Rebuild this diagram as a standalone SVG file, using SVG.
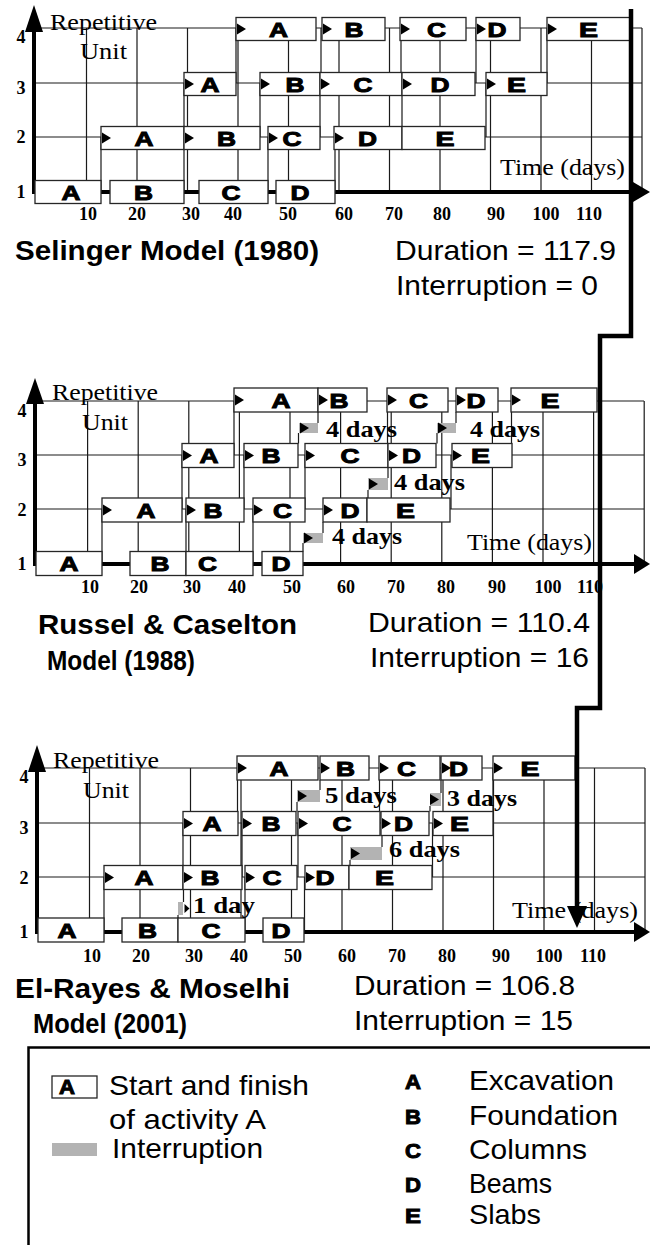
<svg xmlns="http://www.w3.org/2000/svg" xmlns:xlink="http://www.w3.org/1999/xlink" width="650" height="1245" viewBox="0 0 650 1245">
<defs>
<style>
.g{stroke:#1a1a1a;stroke-width:1.2;fill:none}
.ax{stroke:#000;stroke-width:4;fill:none}
.b{fill:#fff;stroke:#262626;stroke-width:1.3}
.L{font-family:"Liberation Sans",Arial,sans-serif;font-weight:bold;font-size:21px;text-anchor:middle;fill:#000;stroke:#000;stroke-width:1}
.n{font-family:"Liberation Serif","Times New Roman",serif;font-weight:bold;font-size:18px;text-anchor:middle;fill:#000}
.r{font-family:"Liberation Serif","Times New Roman",serif;font-size:24px;fill:#000}
.d{font-family:"Liberation Serif","Times New Roman",serif;font-weight:bold;font-size:23px;fill:#000}
.t{font-family:"Liberation Sans",Arial,sans-serif;font-size:28px;fill:#000}
.tb{font-family:"Liberation Sans",Arial,sans-serif;font-size:28px;font-weight:bold;fill:#000}
.gr{fill:#b3b3b3}
</style>
<path id="tri" d="M0,-5.5L9,0L0,5.5Z" fill="#000"/>
</defs>
<rect width="650" height="1245" fill="#fff"/>

<!-- ===== TOP: Selinger ===== -->
<g id="top-grid">
<path class="g" d="M34,28H642M34,83H642M34,137H642M86.5,28V192M137,28V192M187.5,28V192M238,28V192M288.5,28V192M339,28V192M389.5,28V192M440,28V192M490.5,28V192M541,28V192M591.5,28V192M642,28V192"/>
<path class="ax" d="M34,30V194M34,192H636"/>
<polygon points="34,5 25,32 43,32" fill="#000"/>
<polygon points="650,192 633,182 633,202" fill="#000"/>
</g>
<g id="connectors">
<path class="g" d="M101,137V192M184,83V192M236,28V83M260,83V137M268,137V192M321,28V83M320,83V137M335,137V192M401,28V83M402,83V137M476,28V83M486,83V137M547,28V83"/>
<path class="g" d="M102,509V564M182,455V509M186,509V564M234,401V455M244,455V509M253,509V564M305,455V509M387.5,401V455M451,455V509M511.5,401V455M298.5,433V443.5M318,412V423M437,433V443.5M456,412V423M368,490V498M388,467.5V478M303,543V551.5M323,522V533"/>
<path class="g" d="M104,877V932M183,823V877M237.5,768V823M242,823V877M245,877V932M298,823V877M304.5,877V932M379.5,768V823M432.5,823V877M493,768V823M297,802V811.5M320,780V790M430,806V811.5M441,780V793M350,860V865.5M382,835.5V847M178,915V918M183.5,889.5V902"/>
</g>

<g id="top-bars">
<g id="s1A"><rect class="b" x="35" y="180.5" width="66" height="23"/><text class="L" x="71" y="199.5" textLength="19" lengthAdjust="spacingAndGlyphs">A</text></g>
<g id="s1B"><rect class="b" x="110" y="180.5" width="74" height="23"/><text class="L" x="143.5" y="199.5" textLength="19" lengthAdjust="spacingAndGlyphs">B</text></g>
<g id="s1C"><rect class="b" x="199" y="180.5" width="69" height="23"/><text class="L" x="231" y="199.5" textLength="19" lengthAdjust="spacingAndGlyphs">C</text></g>
<g id="s1D"><rect class="b" x="276" y="180.5" width="59" height="23"/><text class="L" x="300" y="199.5" textLength="19" lengthAdjust="spacingAndGlyphs">D</text></g>
<g id="s2A"><rect class="b" x="101" y="126.5" width="83" height="23"/><use xlink:href="#tri" x="102" y="138"/><text class="L" x="144" y="145.5" textLength="19" lengthAdjust="spacingAndGlyphs">A</text></g>
<g id="s2B"><rect class="b" x="184" y="126.5" width="76" height="23"/><use xlink:href="#tri" x="185" y="138"/><text class="L" x="226.5" y="145.5" textLength="19" lengthAdjust="spacingAndGlyphs">B</text></g>
<g id="s2C"><rect class="b" x="268" y="126.5" width="52" height="23"/><use xlink:href="#tri" x="269" y="138"/><text class="L" x="292" y="145.5" textLength="19" lengthAdjust="spacingAndGlyphs">C</text></g>
<g id="s2D"><rect class="b" x="334" y="126.5" width="68" height="23"/><use xlink:href="#tri" x="335" y="138"/><text class="L" x="367.5" y="145.5" textLength="19" lengthAdjust="spacingAndGlyphs">D</text></g>
<g id="s2E"><rect class="b" x="402" y="126.5" width="83" height="23"/><text class="L" x="445" y="145.5" textLength="19" lengthAdjust="spacingAndGlyphs">E</text></g>
<g id="s3A"><rect class="b" x="184" y="72.5" width="52" height="23"/><use xlink:href="#tri" x="185" y="84"/><text class="L" x="210" y="91.5" textLength="19" lengthAdjust="spacingAndGlyphs">A</text></g>
<g id="s3B"><rect class="b" x="260" y="72.5" width="60" height="23"/><use xlink:href="#tri" x="261" y="84"/><text class="L" x="295" y="91.5" textLength="19" lengthAdjust="spacingAndGlyphs">B</text></g>
<g id="s3C"><rect class="b" x="320" y="72.5" width="82" height="23"/><use xlink:href="#tri" x="321" y="84"/><text class="L" x="363" y="91.5" textLength="19" lengthAdjust="spacingAndGlyphs">C</text></g>
<g id="s3D"><rect class="b" x="402" y="72.5" width="73" height="23"/><use xlink:href="#tri" x="403" y="84"/><text class="L" x="440" y="91.5" textLength="19" lengthAdjust="spacingAndGlyphs">D</text></g>
<g id="s3E"><rect class="b" x="486" y="72.5" width="61" height="23"/><use xlink:href="#tri" x="487" y="84"/><text class="L" x="516.5" y="91.5" textLength="19" lengthAdjust="spacingAndGlyphs">E</text></g>
<g id="s4A"><rect class="b" x="236" y="17.5" width="80" height="23"/><use xlink:href="#tri" x="237" y="29"/><text class="L" x="278.5" y="36.5" textLength="19" lengthAdjust="spacingAndGlyphs">A</text></g>
<g id="s4B"><rect class="b" x="322" y="17.5" width="63" height="23"/><use xlink:href="#tri" x="323" y="29"/><text class="L" x="354" y="36.5" textLength="19" lengthAdjust="spacingAndGlyphs">B</text></g>
<g id="s4C"><rect class="b" x="400" y="17.5" width="66" height="23"/><use xlink:href="#tri" x="401" y="29"/><text class="L" x="436.5" y="36.5" textLength="19" lengthAdjust="spacingAndGlyphs">C</text></g>
<g id="s4D"><rect class="b" x="476" y="17.5" width="44" height="23"/><use xlink:href="#tri" x="477" y="29"/><text class="L" x="497" y="36.5" textLength="19" lengthAdjust="spacingAndGlyphs">D</text></g>
<g id="s4E"><rect class="b" x="547" y="17.5" width="83" height="23"/><use xlink:href="#tri" x="548" y="29"/><text class="L" x="588.5" y="36.5" textLength="19" lengthAdjust="spacingAndGlyphs">E</text></g>
</g>
<g id="top-labels">
<text class="r" x="50" y="30" textLength="107" lengthAdjust="spacingAndGlyphs">Repetitive</text>
<text class="r" x="80" y="59" textLength="47" lengthAdjust="spacingAndGlyphs">Unit</text>
<text class="r" x="500" y="175" textLength="125" lengthAdjust="spacingAndGlyphs">Time (days)</text>
<text class="n" x="21" y="43">4</text><text class="n" x="21" y="94">3</text><text class="n" x="21" y="143">2</text><text class="n" x="21" y="198">1</text>
<text class="n" x="88" y="220">10</text><text class="n" x="137" y="220">20</text><text class="n" x="191" y="220">30</text><text class="n" x="233" y="220">40</text><text class="n" x="288" y="220">50</text><text class="n" x="344" y="220">60</text><text class="n" x="394" y="220">70</text><text class="n" x="442" y="220">80</text><text class="n" x="496" y="220">90</text><text class="n" x="546" y="220">100</text><text class="n" x="589" y="220">110</text>
<text class="tb" x="15" y="260" textLength="304" lengthAdjust="spacingAndGlyphs">Selinger Model (1980)</text>
<text class="t" x="395" y="260" textLength="221" lengthAdjust="spacingAndGlyphs">Duration = 117.9</text>
<text class="t" x="396" y="295" textLength="202" lengthAdjust="spacingAndGlyphs">Interruption = 0</text>
</g>

<!-- ===== MIDDLE: Russel & Caselton ===== -->
<g id="mid-grid">
<path class="g" d="M35,401H644M35,455H644M35,509H644M87.6,401V564M138.2,401V564M188.8,401V564M239.4,401V564M290,401V564M340.6,401V564M391.2,401V564M441.8,401V564M492.4,401V564M543,401V564M593.6,401V564M644.2,401V564"/>
<path class="ax" d="M35,402V566M35,564H636"/>
<polygon points="35,378 26,404 44,404" fill="#000"/>
<polygon points="650,564 634,554 634,574" fill="#000"/>
</g>
<g id="mid-bars">
<g id="m1A"><rect class="b" x="36" y="551.5" width="66" height="24"/><text class="L" x="69" y="571" textLength="19" lengthAdjust="spacingAndGlyphs">A</text></g>
<g id="m1B"><rect class="b" x="130" y="551.5" width="56" height="24"/><text class="L" x="160" y="571" textLength="19" lengthAdjust="spacingAndGlyphs">B</text></g>
<g id="m1C"><rect class="b" x="186" y="551.5" width="67" height="24"/><text class="L" x="207.5" y="571" textLength="19" lengthAdjust="spacingAndGlyphs">C</text></g>
<g id="m1D"><rect class="b" x="262" y="551.5" width="41" height="24"/><text class="L" x="281" y="571" textLength="19" lengthAdjust="spacingAndGlyphs">D</text></g>
<g id="m2A"><rect class="b" x="102" y="498" width="80" height="24"/><use xlink:href="#tri" x="103" y="510"/><text class="L" x="146" y="517.5" textLength="19" lengthAdjust="spacingAndGlyphs">A</text></g>
<g id="m2B"><rect class="b" x="186" y="498" width="58" height="24"/><use xlink:href="#tri" x="187" y="510"/><text class="L" x="213" y="517.5" textLength="19" lengthAdjust="spacingAndGlyphs">B</text></g>
<g id="m2C"><rect class="b" x="253" y="498" width="52" height="24"/><use xlink:href="#tri" x="254" y="510"/><text class="L" x="282.5" y="517.5" textLength="19" lengthAdjust="spacingAndGlyphs">C</text></g>
<g id="m2D"><rect class="b" x="323" y="498" width="44" height="24"/><use xlink:href="#tri" x="324" y="510"/><text class="L" x="350" y="517.5" textLength="19" lengthAdjust="spacingAndGlyphs">D</text></g>
<g id="m2E"><rect class="b" x="367" y="498" width="83" height="24"/><text class="L" x="405.5" y="517.5" textLength="19" lengthAdjust="spacingAndGlyphs">E</text></g>
<g id="m3A"><rect class="b" x="182" y="443.5" width="52" height="24"/><use xlink:href="#tri" x="183" y="455.5"/><text class="L" x="209" y="463" textLength="19" lengthAdjust="spacingAndGlyphs">A</text></g>
<g id="m3B"><rect class="b" x="244" y="443.5" width="54" height="24"/><use xlink:href="#tri" x="245" y="455.5"/><text class="L" x="271" y="463" textLength="19" lengthAdjust="spacingAndGlyphs">B</text></g>
<g id="m3C"><rect class="b" x="305" y="443.5" width="83" height="24"/><use xlink:href="#tri" x="306" y="455.5"/><text class="L" x="350" y="463" textLength="19" lengthAdjust="spacingAndGlyphs">C</text></g>
<g id="m3D"><rect class="b" x="388" y="443.5" width="48" height="24"/><use xlink:href="#tri" x="389" y="455.5"/><text class="L" x="411.5" y="463" textLength="19" lengthAdjust="spacingAndGlyphs">D</text></g>
<g id="m3E"><rect class="b" x="452" y="443.5" width="60" height="24"/><use xlink:href="#tri" x="453" y="455.5"/><text class="L" x="480.5" y="463" textLength="19" lengthAdjust="spacingAndGlyphs">E</text></g>
<g id="m4A"><rect class="b" x="234" y="388" width="84" height="24"/><use xlink:href="#tri" x="235" y="400"/><text class="L" x="281" y="407.5" textLength="19" lengthAdjust="spacingAndGlyphs">A</text></g>
<g id="m4B"><rect class="b" x="318" y="388" width="49" height="24"/><use xlink:href="#tri" x="319" y="400"/><text class="L" x="339" y="407.5" textLength="19" lengthAdjust="spacingAndGlyphs">B</text></g>
<g id="m4C"><rect class="b" x="387" y="388" width="61" height="24"/><use xlink:href="#tri" x="388" y="400"/><text class="L" x="418.5" y="407.5" textLength="19" lengthAdjust="spacingAndGlyphs">C</text></g>
<g id="m4D"><rect class="b" x="456" y="388" width="42" height="24"/><use xlink:href="#tri" x="457" y="400"/><text class="L" x="476" y="407.5" textLength="19" lengthAdjust="spacingAndGlyphs">D</text></g>
<g id="m4E"><rect class="b" x="511" y="388" width="86" height="24"/><use xlink:href="#tri" x="512" y="400"/><text class="L" x="550" y="407.5" textLength="19" lengthAdjust="spacingAndGlyphs">E</text></g>
</g>
<g id="mid-interruptions">
<g id="mi1"><rect class="gr" x="299" y="423" width="19" height="10"/><use xlink:href="#tri" x="300" y="428"/><text class="d" x="326" y="437" textLength="71" lengthAdjust="spacingAndGlyphs">4 days</text></g>
<g id="mi2"><rect class="gr" x="437" y="423" width="19" height="10"/><use xlink:href="#tri" x="438" y="428"/><text class="d" x="470" y="437" textLength="70" lengthAdjust="spacingAndGlyphs">4 days</text></g>
<g id="mi3"><rect class="gr" x="368" y="478" width="20" height="12"/><use xlink:href="#tri" x="369" y="484"/><text class="d" x="394" y="490" textLength="71" lengthAdjust="spacingAndGlyphs">4 days</text></g>
<g id="mi4"><rect class="gr" x="303" y="533" width="20" height="10"/><use xlink:href="#tri" x="304" y="538"/><text class="d" x="332" y="544" textLength="70" lengthAdjust="spacingAndGlyphs">4 days</text></g>
</g>
<g id="mid-labels">
<text class="r" x="52" y="400" textLength="106" lengthAdjust="spacingAndGlyphs">Repetitive</text>
<text class="r" x="82" y="430" textLength="46" lengthAdjust="spacingAndGlyphs">Unit</text>
<text class="r" x="467" y="550" textLength="125" lengthAdjust="spacingAndGlyphs">Time (days)</text>
<text class="n" x="22" y="417">4</text><text class="n" x="22" y="466">3</text><text class="n" x="22" y="516">2</text><text class="n" x="22" y="570">1</text>
<text class="n" x="90" y="593">10</text><text class="n" x="139" y="593">20</text><text class="n" x="192" y="593">30</text><text class="n" x="237" y="593">40</text><text class="n" x="292" y="593">50</text><text class="n" x="346" y="593">60</text><text class="n" x="396" y="593">70</text><text class="n" x="446" y="593">80</text><text class="n" x="497" y="593">90</text><text class="n" x="548" y="593">100</text><text class="n" x="590" y="593">110</text>
<text class="tb" x="38" y="634" textLength="259" lengthAdjust="spacingAndGlyphs">Russel &amp; Caselton</text>
<text class="tb" x="47" y="670" textLength="148" lengthAdjust="spacingAndGlyphs">Model (1988)</text>
<text class="t" x="368" y="632" textLength="222" lengthAdjust="spacingAndGlyphs">Duration = 110.4</text>
<text class="t" x="370" y="667" textLength="219" lengthAdjust="spacingAndGlyphs">Interruption = 16</text>
</g>

<!-- ===== BOTTOM: El-Rayes & Moselhi ===== -->
<g id="bot-grid">
<path class="g" d="M37,768H645M37,823H645M37,877H645M89.5,768V932M140,768V932M190.5,768V932M241,768V932M291.5,768V932M342,768V932M392.5,768V932M443,768V932M493.5,768V932M544,768V932M594.5,768V932M645,768V932"/>
<path class="ax" d="M37,771V934M37,932H636"/>
<polygon points="37,745 28,772 46,772" fill="#000"/>
<polygon points="650,932 634,922 634,942" fill="#000"/>
</g>
<g id="bot-bars">
<g id="e1A"><rect class="b" x="38" y="918" width="66" height="24"/><text class="L" x="67" y="937.5" textLength="19" lengthAdjust="spacingAndGlyphs">A</text></g>
<g id="e1B"><rect class="b" x="122" y="918" width="56" height="24"/><text class="L" x="147.5" y="937.5" textLength="19" lengthAdjust="spacingAndGlyphs">B</text></g>
<g id="e1C"><rect class="b" x="178" y="918" width="67" height="24"/><text class="L" x="211" y="937.5" textLength="19" lengthAdjust="spacingAndGlyphs">C</text></g>
<g id="e1D"><rect class="b" x="263" y="918" width="41" height="24"/><text class="L" x="281" y="937.5" textLength="19" lengthAdjust="spacingAndGlyphs">D</text></g>
<g id="e2A"><rect class="b" x="104" y="865.5" width="79" height="24"/><use xlink:href="#tri" x="105" y="877.5"/><text class="L" x="144" y="885" textLength="19" lengthAdjust="spacingAndGlyphs">A</text></g>
<g id="e2B"><rect class="b" x="183" y="865.5" width="59" height="24"/><use xlink:href="#tri" x="184" y="877.5"/><text class="L" x="210" y="885" textLength="19" lengthAdjust="spacingAndGlyphs">B</text></g>
<g id="e2C"><rect class="b" x="245" y="865.5" width="52" height="24"/><use xlink:href="#tri" x="246" y="877.5"/><text class="L" x="272" y="885" textLength="19" lengthAdjust="spacingAndGlyphs">C</text></g>
<g id="e2D"><rect class="b" x="305" y="865.5" width="44" height="24"/><use xlink:href="#tri" x="306" y="877.5"/><text class="L" x="325" y="885" textLength="19" lengthAdjust="spacingAndGlyphs">D</text></g>
<g id="e2E"><rect class="b" x="349" y="865.5" width="83" height="24"/><text class="L" x="384.5" y="885" textLength="19" lengthAdjust="spacingAndGlyphs">E</text></g>
<g id="e3A"><rect class="b" x="183" y="811.5" width="55" height="24"/><use xlink:href="#tri" x="184" y="823.5"/><text class="L" x="212" y="831" textLength="19" lengthAdjust="spacingAndGlyphs">A</text></g>
<g id="e3B"><rect class="b" x="242" y="811.5" width="54" height="24"/><use xlink:href="#tri" x="243" y="823.5"/><text class="L" x="271" y="831" textLength="19" lengthAdjust="spacingAndGlyphs">B</text></g>
<g id="e3C"><rect class="b" x="298" y="811.5" width="82" height="24"/><use xlink:href="#tri" x="299" y="823.5"/><text class="L" x="342" y="831" textLength="19" lengthAdjust="spacingAndGlyphs">C</text></g>
<g id="e3D"><rect class="b" x="381" y="811.5" width="48" height="24"/><use xlink:href="#tri" x="382" y="823.5"/><text class="L" x="403.5" y="831" textLength="19" lengthAdjust="spacingAndGlyphs">D</text></g>
<g id="e3E"><rect class="b" x="433" y="811.5" width="60" height="24"/><use xlink:href="#tri" x="434" y="823.5"/><text class="L" x="459.5" y="831" textLength="19" lengthAdjust="spacingAndGlyphs">E</text></g>
<g id="e4A"><rect class="b" x="237" y="756" width="81" height="24"/><use xlink:href="#tri" x="238" y="768"/><text class="L" x="279" y="775.5" textLength="19" lengthAdjust="spacingAndGlyphs">A</text></g>
<g id="e4B"><rect class="b" x="320" y="756" width="49" height="24"/><use xlink:href="#tri" x="321" y="768"/><text class="L" x="345.5" y="775.5" textLength="19" lengthAdjust="spacingAndGlyphs">B</text></g>
<g id="e4C"><rect class="b" x="379" y="756" width="61" height="24"/><use xlink:href="#tri" x="380" y="768"/><text class="L" x="406.5" y="775.5" textLength="19" lengthAdjust="spacingAndGlyphs">C</text></g>
<g id="e4D"><rect class="b" x="441" y="756" width="41" height="24"/><use xlink:href="#tri" x="442" y="768"/><text class="L" x="458.5" y="775.5" textLength="19" lengthAdjust="spacingAndGlyphs">D</text></g>
<g id="e4E"><rect class="b" x="493" y="756" width="82" height="24"/><use xlink:href="#tri" x="494" y="768"/><text class="L" x="530" y="775.5" textLength="19" lengthAdjust="spacingAndGlyphs">E</text></g>
</g>
<g id="bot-interruptions">
<g id="ei1"><rect class="gr" x="297" y="790" width="23" height="12"/><use xlink:href="#tri" x="298" y="796"/><text class="d" x="325" y="803" textLength="72" lengthAdjust="spacingAndGlyphs">5 days</text></g>
<g id="ei2"><rect class="gr" x="430" y="793" width="11" height="13"/><use xlink:href="#tri" x="430" y="799.5"/><text class="d" x="447" y="806" textLength="70" lengthAdjust="spacingAndGlyphs">3 days</text></g>
<g id="ei3"><rect class="gr" x="350" y="847" width="32" height="13"/><use xlink:href="#tri" x="351" y="853.5"/><text class="d" x="389" y="857" textLength="71" lengthAdjust="spacingAndGlyphs">6 days</text></g>
<g id="ei4"><rect class="gr" x="178" y="902" width="5" height="13"/><path d="M184.5,904L189.5,908.5L184.5,913Z" fill="#000"/><text class="d" x="193" y="913" textLength="62" lengthAdjust="spacingAndGlyphs">1 day</text></g>
</g>
<g id="bot-labels">
<text class="r" x="53" y="768" textLength="106" lengthAdjust="spacingAndGlyphs">Repetitive</text>
<text class="r" x="83" y="798" textLength="46" lengthAdjust="spacingAndGlyphs">Unit</text>
<text class="r" x="512" y="918" textLength="126" lengthAdjust="spacingAndGlyphs">Time (days)</text>
<text class="n" x="24" y="783">4</text><text class="n" x="24" y="834">3</text><text class="n" x="24" y="884">2</text><text class="n" x="24" y="938">1</text>
<text class="n" x="92" y="962">10</text><text class="n" x="141" y="962">20</text><text class="n" x="194" y="962">30</text><text class="n" x="239" y="962">40</text><text class="n" x="293" y="962">50</text><text class="n" x="347" y="962">60</text><text class="n" x="397" y="962">70</text><text class="n" x="447" y="962">80</text><text class="n" x="501" y="962">90</text><text class="n" x="549" y="962">100</text><text class="n" x="593" y="962">110</text>
<text class="tb" x="15" y="998" textLength="275" lengthAdjust="spacingAndGlyphs">El-Rayes &amp; Moselhi</text>
<text class="tb" x="33" y="1033" textLength="154" lengthAdjust="spacingAndGlyphs">Model (2001)</text>
<text class="t" x="354" y="995" textLength="221" lengthAdjust="spacingAndGlyphs">Duration = 106.8</text>
<text class="t" x="354" y="1030" textLength="219" lengthAdjust="spacingAndGlyphs">Interruption = 15</text>
</g>

<!-- thick comparison connector -->
<g id="duration-link">
<path d="M631,9V336H600V708H577V910" fill="none" stroke="#000" stroke-width="4.5"/>
<polygon points="567,906 587,906 577,928" fill="#000"/>
</g>

<!-- ===== LEGEND ===== -->
<g id="legend">
<rect x="28.5" y="1047.5" width="640" height="220" fill="none" stroke="#000" stroke-width="2.5"/>
<g id="leg-activity"><rect class="b" x="52" y="1076" width="45" height="22"/><text class="L" x="67" y="1094" font-size="18" textLength="16" lengthAdjust="spacingAndGlyphs">A</text></g>
<text class="t" x="109" y="1095" textLength="200" lengthAdjust="spacingAndGlyphs">Start and finish</text>
<text class="t" x="109" y="1129" textLength="157" lengthAdjust="spacingAndGlyphs">of activity A</text>
<rect class="gr" x="52" y="1143" width="45" height="13"/>
<text class="t" x="112" y="1158" textLength="151" lengthAdjust="spacingAndGlyphs">Interruption</text>
<text class="L" x="413" y="1089" font-size="19" textLength="16" lengthAdjust="spacingAndGlyphs">A</text>
<text class="L" x="413" y="1124" font-size="19" textLength="16" lengthAdjust="spacingAndGlyphs">B</text>
<text class="L" x="413" y="1158" font-size="19" textLength="16" lengthAdjust="spacingAndGlyphs">C</text>
<text class="L" x="413" y="1192" font-size="19" textLength="16" lengthAdjust="spacingAndGlyphs">D</text>
<text class="L" x="413" y="1223" font-size="19" textLength="16" lengthAdjust="spacingAndGlyphs">E</text>
<text class="t" x="469" y="1090" textLength="145" lengthAdjust="spacingAndGlyphs">Excavation</text>
<text class="t" x="469" y="1125" textLength="149" lengthAdjust="spacingAndGlyphs">Foundation</text>
<text class="t" x="469" y="1159" textLength="118" lengthAdjust="spacingAndGlyphs">Columns</text>
<text class="t" x="469" y="1193" textLength="83" lengthAdjust="spacingAndGlyphs">Beams</text>
<text class="t" x="469" y="1224" textLength="72" lengthAdjust="spacingAndGlyphs">Slabs</text>
</g>
</svg>
